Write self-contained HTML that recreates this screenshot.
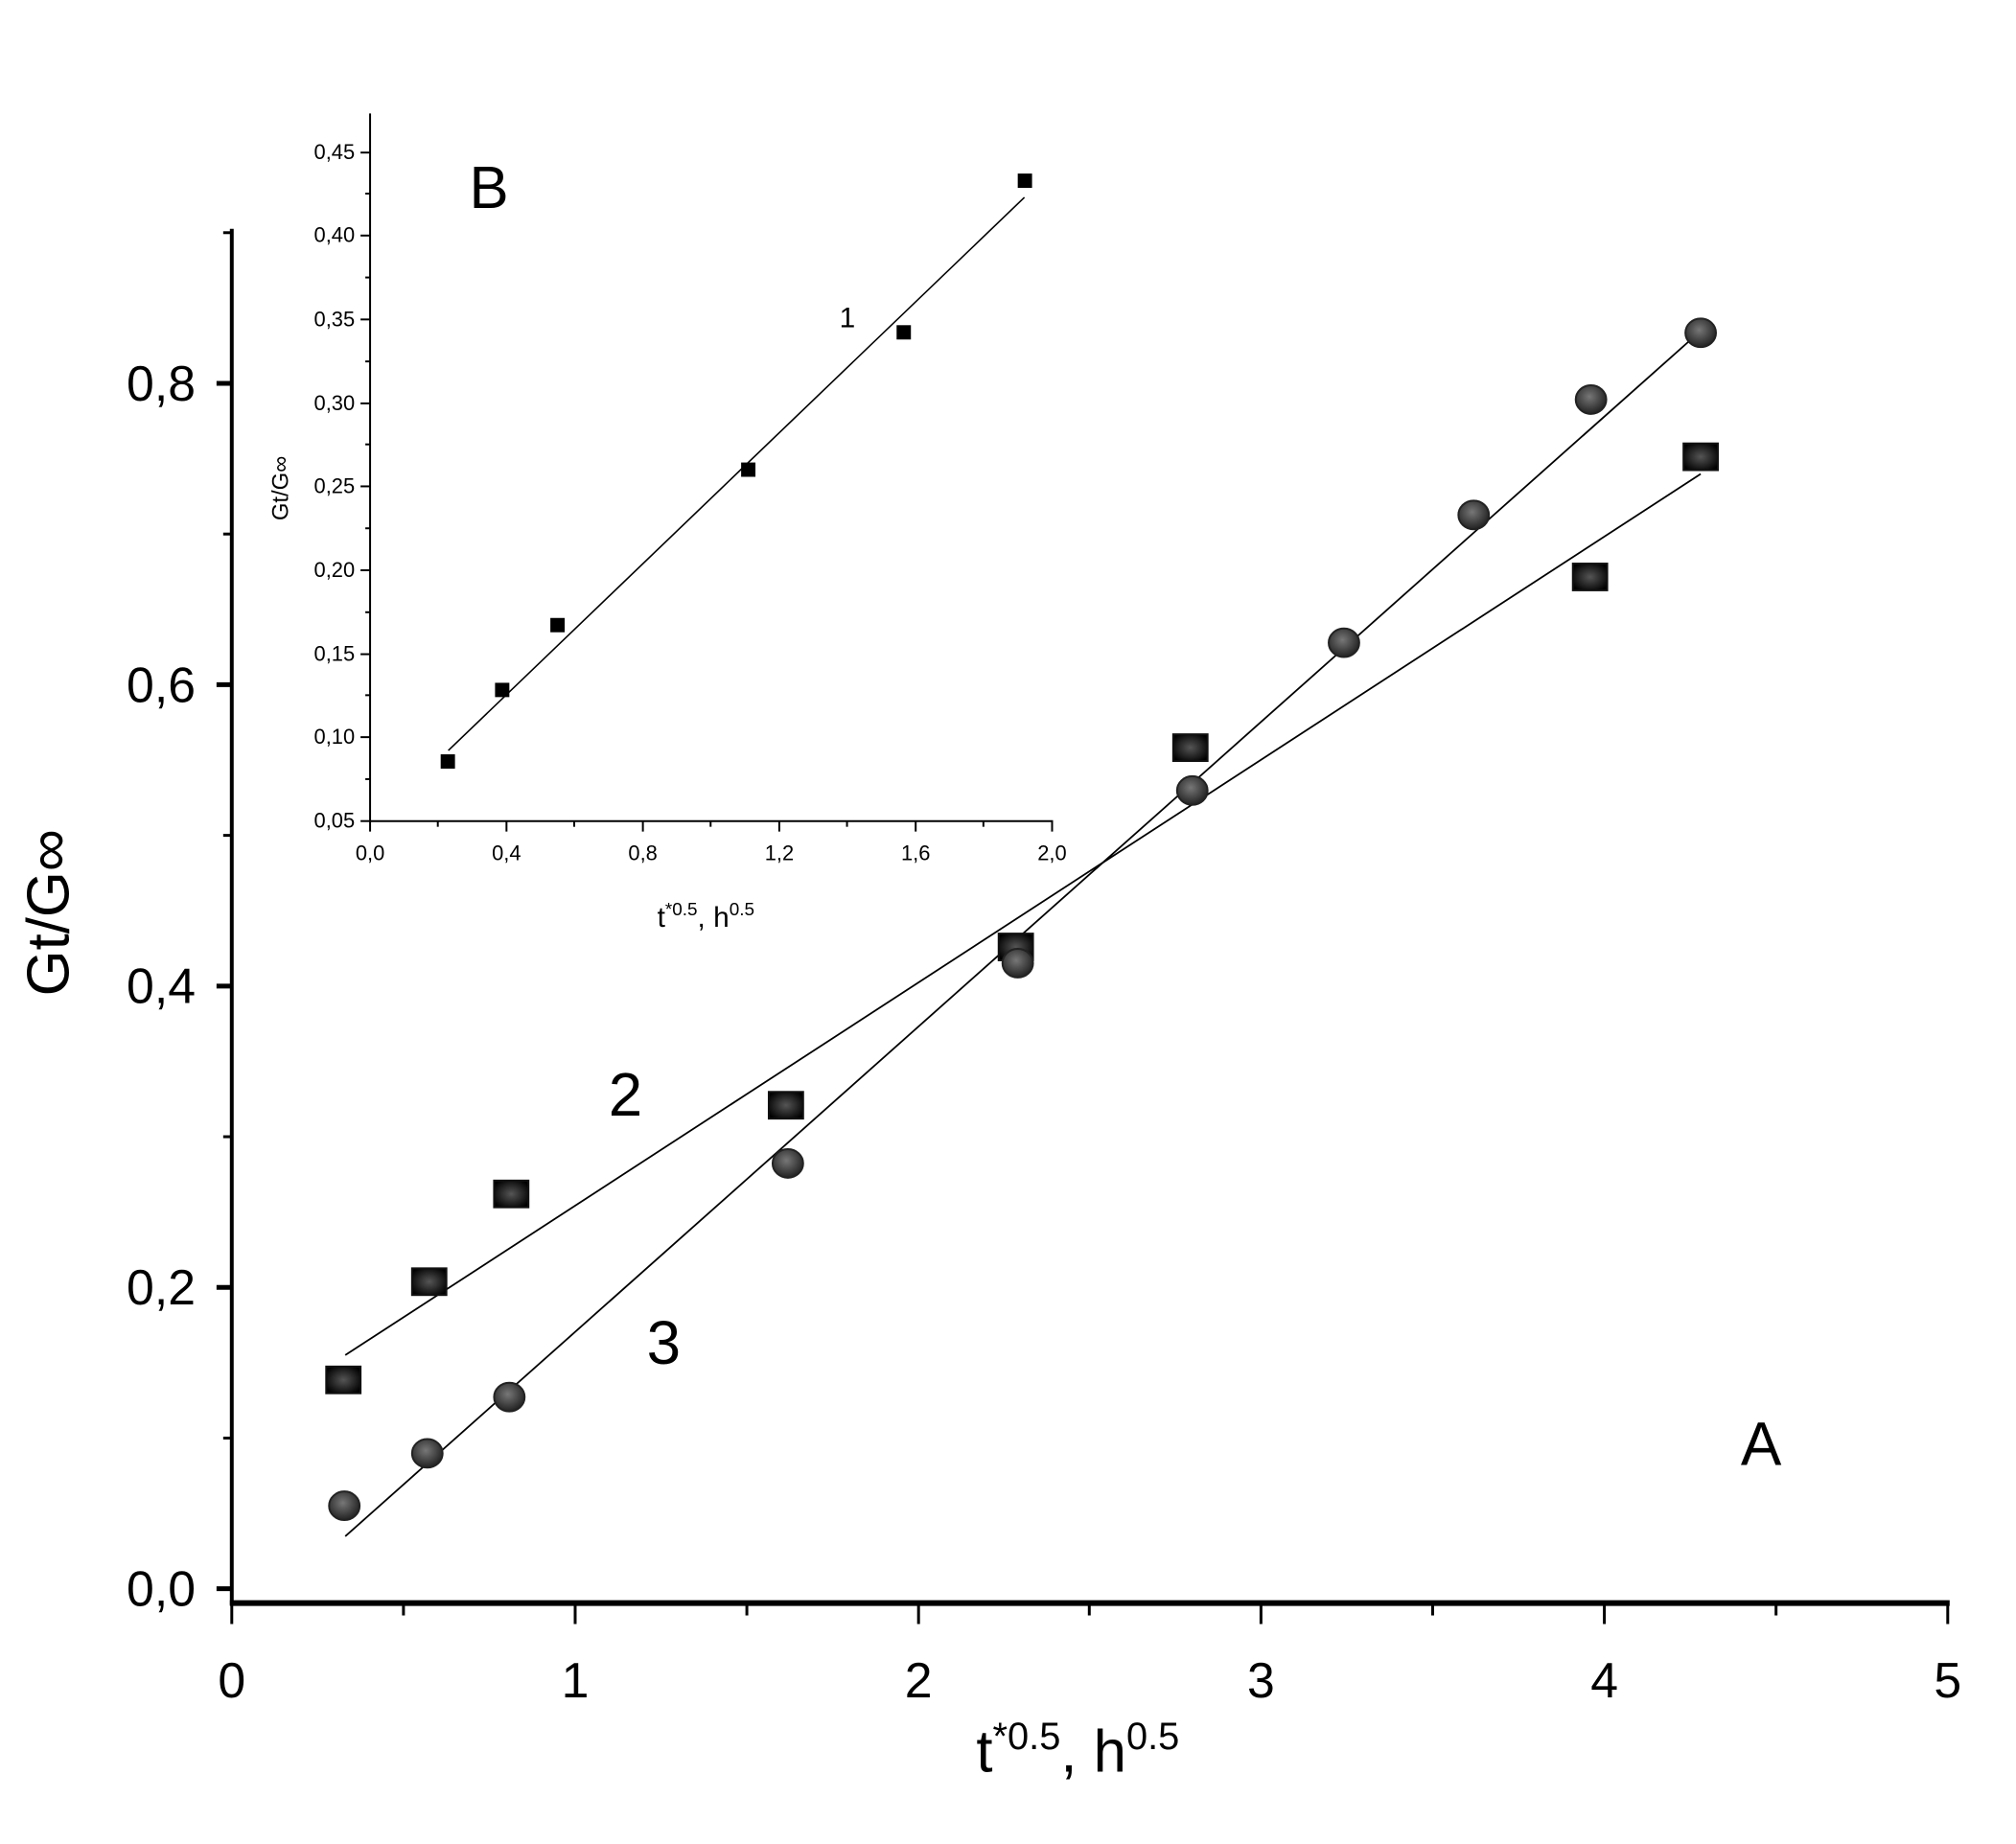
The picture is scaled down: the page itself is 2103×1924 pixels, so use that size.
<!DOCTYPE html>
<html><head><meta charset="utf-8"><style>body{margin:0;background:#fff}svg{display:block}</style></head><body>
<svg width="2103" height="1924" viewBox="0 0 2103 1924" xmlns="http://www.w3.org/2000/svg" font-family="Liberation Sans, DejaVu Sans, sans-serif">
<defs>
<radialGradient id="cg" cx="45%" cy="40%" r="60%"><stop offset="0" stop-color="#777"/><stop offset="1" stop-color="#222"/></radialGradient>
<radialGradient id="sg" cx="50%" cy="50%" r="60%"><stop offset="0" stop-color="#555"/><stop offset="1" stop-color="#000"/></radialGradient>
</defs>
<g transform="scale(0.995)">
<g stroke="#000" fill="none">
<line x1="243" y1="240" x2="243" y2="1683" stroke-width="4"/>
<line x1="241" y1="1681" x2="2044" y2="1681" stroke-width="6"/>
<g stroke-width="3">
<line x1="243" y1="1681" x2="243" y2="1703"/><line x1="603" y1="1681" x2="603" y2="1703"/><line x1="963" y1="1681" x2="963" y2="1703"/><line x1="1322" y1="1681" x2="1322" y2="1703"/><line x1="1682" y1="1681" x2="1682" y2="1703"/><line x1="2042" y1="1681" x2="2042" y2="1703"/>
<line x1="423" y1="1681" x2="423" y2="1694"/><line x1="783" y1="1681" x2="783" y2="1694"/><line x1="1142" y1="1681" x2="1142" y2="1694"/><line x1="1502" y1="1681" x2="1502" y2="1694"/><line x1="1862" y1="1681" x2="1862" y2="1694"/>
<line x1="227" y1="1666" x2="243" y2="1666" stroke-width="5"/><line x1="227" y1="1350" x2="243" y2="1350" stroke-width="5"/><line x1="227" y1="1034" x2="243" y2="1034" stroke-width="5"/><line x1="227" y1="718" x2="243" y2="718" stroke-width="5"/><line x1="227" y1="402" x2="243" y2="402" stroke-width="5"/>
<line x1="234" y1="1508" x2="243" y2="1508"/><line x1="234" y1="1192" x2="243" y2="1192"/><line x1="234" y1="876" x2="243" y2="876"/><line x1="234" y1="560" x2="243" y2="560"/><line x1="234" y1="244" x2="243" y2="244"/>
</g>
</g>
<g font-size="52" text-anchor="end">
<text x="205" y="1684">0,0</text><text x="205" y="1368">0,2</text><text x="205" y="1052">0,4</text><text x="205" y="736">0,6</text><text x="205" y="420">0,8</text>
</g>
<g font-size="52" text-anchor="middle">
<text x="243" y="1780">0</text><text x="603" y="1780">1</text><text x="963" y="1780">2</text><text x="1322" y="1780">3</text><text x="1682" y="1780">4</text><text x="2042" y="1780">5</text>
</g>
<text x="1130" y="1858" font-size="62" text-anchor="middle">t<tspan font-size="40" dy="-24">*0.5</tspan><tspan dy="24">, h</tspan><tspan font-size="40" dy="-24">0.5</tspan></text>
<text transform="translate(72,957) rotate(-90)" font-size="62" text-anchor="middle">Gt/G∞</text>
<line x1="362" y1="1421" x2="1783" y2="497" stroke="#000" stroke-width="1.8"/>
<line x1="362" y1="1611" x2="1783" y2="347" stroke="#000" stroke-width="1.8"/>
<g fill="url(#sg)" stroke="#111" stroke-width="2">
<rect x="342" y="1433" width="36" height="28"/><rect x="432" y="1330" width="36" height="28"/><rect x="518" y="1238" width="36" height="28"/><rect x="806" y="1145" width="36" height="28"/><rect x="1047" y="979" width="36" height="28"/><rect x="1230" y="770" width="36" height="28"/><rect x="1649" y="591" width="36" height="28"/><rect x="1765" y="465" width="36" height="28"/>
</g>
<g fill="url(#cg)" stroke="#222" stroke-width="2">
<ellipse cx="361" cy="1579" rx="16" ry="15"/><ellipse cx="448" cy="1524" rx="16" ry="15"/><ellipse cx="534" cy="1465" rx="16" ry="15"/><ellipse cx="826" cy="1220" rx="16" ry="15"/><ellipse cx="1067" cy="1010" rx="16" ry="15"/><ellipse cx="1250" cy="829" rx="16" ry="15"/><ellipse cx="1409" cy="674" rx="16" ry="15"/><ellipse cx="1545" cy="540" rx="16" ry="15"/><ellipse cx="1668" cy="419" rx="16" ry="15"/><ellipse cx="1783" cy="349" rx="16" ry="15"/>
</g>
<g font-size="64"><text x="638" y="1170">2</text><text x="678" y="1430">3</text><text x="1825" y="1536">A</text></g>
<g stroke="#000" fill="none" stroke-width="2">
<line x1="388" y1="119" x2="388" y2="862"/><line x1="387" y1="861" x2="1104" y2="861"/>
<g>
<line x1="388" y1="861" x2="388" y2="872"/><line x1="531" y1="861" x2="531" y2="872"/><line x1="674" y1="861" x2="674" y2="872"/><line x1="817" y1="861" x2="817" y2="872"/><line x1="960" y1="861" x2="960" y2="872"/><line x1="1103" y1="861" x2="1103" y2="872"/>
<line x1="459" y1="861" x2="459" y2="867"/><line x1="602" y1="861" x2="602" y2="867"/><line x1="745" y1="861" x2="745" y2="867"/><line x1="888" y1="861" x2="888" y2="867"/><line x1="1031" y1="861" x2="1031" y2="867"/>
<line x1="378" y1="861" x2="388" y2="861"/><line x1="378" y1="773" x2="388" y2="773"/><line x1="378" y1="686" x2="388" y2="686"/><line x1="378" y1="598" x2="388" y2="598"/><line x1="378" y1="510" x2="388" y2="510"/><line x1="378" y1="423" x2="388" y2="423"/><line x1="378" y1="335" x2="388" y2="335"/><line x1="378" y1="247" x2="388" y2="247"/><line x1="378" y1="160" x2="388" y2="160"/>
<line x1="383" y1="817" x2="388" y2="817"/><line x1="383" y1="729" x2="388" y2="729"/><line x1="383" y1="642" x2="388" y2="642"/><line x1="383" y1="554" x2="388" y2="554"/><line x1="383" y1="466" x2="388" y2="466"/><line x1="383" y1="379" x2="388" y2="379"/><line x1="383" y1="291" x2="388" y2="291"/><line x1="383" y1="203" x2="388" y2="203"/>
</g>
</g>
<g font-size="22" text-anchor="end">
<text x="372" y="868">0,05</text><text x="372" y="780">0,10</text><text x="372" y="693">0,15</text><text x="372" y="605">0,20</text><text x="372" y="517">0,25</text><text x="372" y="430">0,30</text><text x="372" y="342">0,35</text><text x="372" y="254">0,40</text><text x="372" y="167">0,45</text>
</g>
<g font-size="22" text-anchor="middle">
<text x="388" y="902">0,0</text><text x="531" y="902">0,4</text><text x="674" y="902">0,8</text><text x="817" y="902">1,2</text><text x="960" y="902">1,6</text><text x="1103" y="902">2,0</text>
</g>
<text x="740" y="972" font-size="30" text-anchor="middle">t<tspan font-size="19" dy="-12">*0.5</tspan><tspan dy="12">, h</tspan><tspan font-size="19" dy="-12">0.5</tspan></text>
<text transform="translate(302,512) rotate(-90)" font-size="24" text-anchor="middle">Gt/G∞</text>
<line x1="470" y1="787" x2="1074" y2="207" stroke="#000" stroke-width="1.6"/>
<g fill="#000">
<rect x="462" y="791" width="15" height="15"/><rect x="519" y="716" width="15" height="15"/><rect x="577" y="648" width="15" height="15"/><rect x="777" y="485" width="15" height="15"/><rect x="940" y="341" width="15" height="15"/><rect x="1067" y="182" width="15" height="15"/>
</g>
<text x="880" y="343" font-size="30">1</text>
<text x="492" y="218" font-size="62">B</text>
</g>
</svg>
</body></html>
